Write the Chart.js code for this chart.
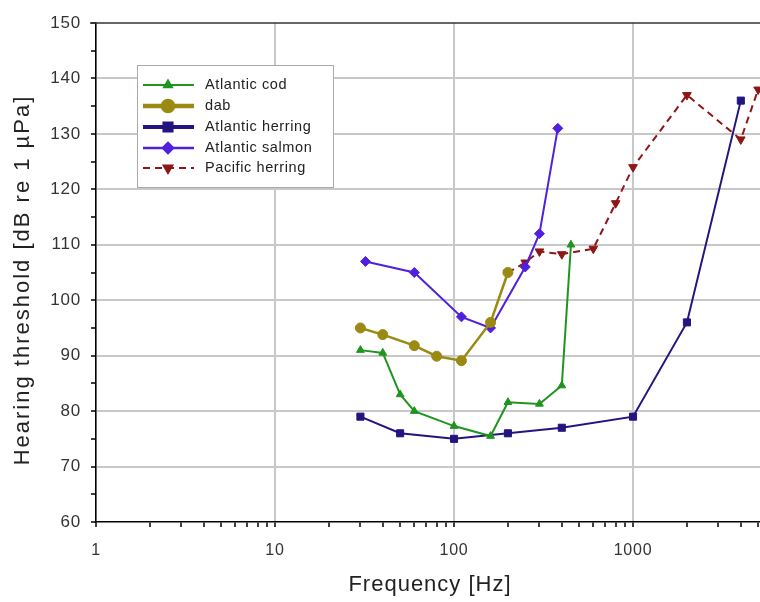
<!DOCTYPE html>
<html>
<head>
<meta charset="utf-8">
<script src="https://cdn.jsdelivr.net/npm/chart.js@4.4.0/dist/chart.umd.min.js"></script>
<style>
html,body{margin:0;padding:0;background:#fff;}
#wrap{position:relative;width:760px;height:602px;}
</style>
</head>
<body>
<div id="wrap"><canvas id="c" width="760" height="602"></canvas></div>
<script>
// ---- data ----
const codFreq = [30, 40, 50, 60, 100, 160, 200, 300, 400, 450];
const codThr  = [91, 90.5, 83, 80, 77.3, 75.5, 81.6, 81.3, 84.6, 110];
const dabFreq = [30, 40, 60, 80, 110, 160, 200];
const dabThr  = [95, 93.8, 91.8, 89.9, 89.1, 96, 105];
const aHerFreq = [30, 50, 100, 200, 400, 1000, 2000, 4000];
const aHerThr  = [79, 76, 75, 76, 77, 79, 96, 136];
const salFreq = [32, 60, 110, 160, 250, 300, 380];
const salThr  = [107, 105, 97, 95, 106, 112, 131];
const pHerFreq = [200, 250, 300, 400, 600, 800, 1000, 2000, 4000, 5000];
const pHerThr  = [105, 106.8, 108.8, 108.3, 109.3, 117.5, 124, 137, 129, 138];
const seriesNames = ['Atlantic cod', 'dab', 'Atlantic herring', 'Atlantic salmon', 'Pacific herring'];
const yTicks = [60, 70, 80, 90, 100, 110, 120, 130, 140, 150];
const xDecades = [1, 10, 100, 1000];
const xTitle = 'Frequency [Hz]';
const yTitle = 'Hearing threshold [dB re 1 µPa]';

const pts = (xs, ys) => xs.map((x, i) => ({x: x, y: ys[i]}));
const FONT = '"Liberation Sans", Arial, sans-serif';

const datasets = [
  {label: seriesNames[0], data: pts(codFreq, codThr), borderColor: '#1f951f', backgroundColor: '#1f951f',
   borderWidth: 2, pointStyle: 'triangle', pointRadius: 4.5, legendWidth: 2},
  {label: seriesNames[1], data: pts(dabFreq, dabThr), borderColor: '#9a8a12', backgroundColor: '#9a8a12',
   borderWidth: 2.5, pointStyle: 'circle', pointRadius: 5, legendWidth: 4.5},
  {label: seriesNames[2], data: pts(aHerFreq, aHerThr), borderColor: '#22157f', backgroundColor: '#22157f',
   borderWidth: 2, pointStyle: 'rect', pointRadius: 5, legendWidth: 4},
  {label: seriesNames[3], data: pts(salFreq, salThr), borderColor: '#5020dc', backgroundColor: '#5020dc',
   borderWidth: 2, pointStyle: 'rectRot', pointRadius: 5, legendWidth: 2.5},
  {label: seriesNames[4], data: pts(pHerFreq, pHerThr), borderColor: '#8e1616', backgroundColor: '#8e1616',
   borderWidth: 2, borderDash: [7, 5], pointStyle: 'triangle', pointRotation: 180, pointRadius: 5, legendWidth: 2}
];
datasets.forEach(d => { d.fill = false; d.tension = 0; d.pointBorderWidth = 1; d.clip = false; });

const spacingPlugin = {
  id: 'spacing',
  beforeDraw(chart) { chart.ctx.letterSpacing = '0.8px'; }
};

const legendPlugin = {
  id: 'boxLegend',
  afterDatasetsDraw(chart) {
    const ctx = chart.ctx;
    const x0 = 137, y0 = 65, w = 196, h = 122;
    ctx.save();
    ctx.fillStyle = '#fff';
    ctx.fillRect(x0, y0, w, h);
    ctx.strokeStyle = '#aaaaaa';
    ctx.lineWidth = 1;
    ctx.strokeRect(x0 + 0.5, y0 + 0.5, w, h);
    const rowY = [85, 106, 127, 148, 168];
    chart.data.datasets.forEach((d, i) => {
      const y = rowY[i];
      ctx.save();
      ctx.strokeStyle = d.borderColor;
      ctx.lineWidth = d.legendWidth;
      ctx.setLineDash(d.borderDash || []);
      ctx.beginPath();
      ctx.moveTo(143, y);
      ctx.lineTo(194, y);
      ctx.stroke();
      ctx.setLineDash([]);
      ctx.fillStyle = d.backgroundColor;
      Chart.helpers.drawPoint(ctx, {pointStyle: d.pointStyle, radius: d.pointRadius, rotation: d.pointRotation || 0, borderWidth: 1}, 168, y);
      ctx.fill();
      ctx.restore();
      ctx.fillStyle = '#222';
      ctx.letterSpacing = '0.6px';
      ctx.font = '14.5px ' + FONT;
      ctx.textBaseline = 'middle';
      ctx.textAlign = 'left';
      ctx.fillText(d.label, 205, y);
    });
    ctx.restore();
  }
};

const frameAndTitles = {
  id: 'frameAndTitles',
  afterDraw(chart) {
    const a = chart.chartArea, ctx = chart.ctx;
    ctx.save();
    ctx.strokeStyle = '#333';
    ctx.lineWidth = 1.5;
    ctx.beginPath();
    ctx.moveTo(a.left - 6, a.top);
    ctx.lineTo(a.right, a.top);
    ctx.stroke();
    // axis titles
    ctx.fillStyle = '#222';
    ctx.textAlign = 'center';
    ctx.textBaseline = 'middle';
    ctx.letterSpacing = '1px';
    ctx.font = '22px ' + FONT;
    ctx.fillText(xTitle, 430, 585);
    ctx.translate(23, 280);
    ctx.rotate(-Math.PI / 2);
    ctx.letterSpacing = '2px';
    ctx.font = '22px ' + FONT;
    ctx.fillText(yTitle, 0, 0);
    ctx.restore();
  }
};

new Chart(document.getElementById('c'), {
  type: 'line',
  data: {datasets: datasets},
  options: {
    responsive: false,
    animation: false,
    devicePixelRatio: 1,
    layout: {autoPadding: false, padding: {top: 23, right: 0, left: 0, bottom: 0}},
    plugins: {legend: {display: false}, tooltip: {enabled: false}},
    scales: {
      x: {
        type: 'logarithmic',
        min: 1, max: 5120,
        afterBuildTicks(scale) {
          const t = [];
          xDecades.forEach(d => { for (let m = 1; m <= 9; m++) { const v = m * d; if (v <= 5120) t.push({value: v, major: m === 1}); } });
          scale.ticks = t;
        },
        afterFit(scale) { scale.height = 80; scale.paddingRight = 0; scale.paddingLeft = 0; },
        ticks: {
          autoSkip: false, maxRotation: 0,
          callback: (v) => xDecades.includes(v) ? String(v) : '',
          color: '#333', font: {family: FONT, size: 16}, padding: 14
        },
        grid: {
          color: (c) => (c.tick && xDecades.includes(c.tick.value)) ? '#c8c8c8' : 'rgba(0,0,0,0)',
          lineWidth: 2,
          tickColor: '#000', tickLength: 5, tickWidth: 1.5, drawOnChartArea: true
        },
        border: {color: '#000', width: 1.5},
        title: {display: false}
      },
      y: {
        type: 'linear',
        min: 60, max: 150,
        afterBuildTicks(scale) {
          const t = [];
          for (let v = 60; v <= 150; v += 5) t.push({value: v});
          scale.ticks = t;
        },
        afterFit(scale) { scale.width = 96; },
        ticks: {
          autoSkip: false,
          callback: (v) => yTicks.includes(v) ? String(v) : '',
          color: '#333', font: {family: FONT, size: 17}, padding: 10
        },
        grid: {
          color: (c) => (c.tick && yTicks.includes(c.tick.value) && c.tick.value !== 60 && c.tick.value !== 150) ? '#c8c8c8' : 'rgba(0,0,0,0)',
          lineWidth: 2,
          tickColor: '#000', tickLength: 5, tickWidth: 1.5
        },
        border: {color: '#000', width: 1.5},
        title: {display: false}
      }
    }
  },
  plugins: [spacingPlugin, legendPlugin, frameAndTitles]
});
</script>
</body>
</html>
